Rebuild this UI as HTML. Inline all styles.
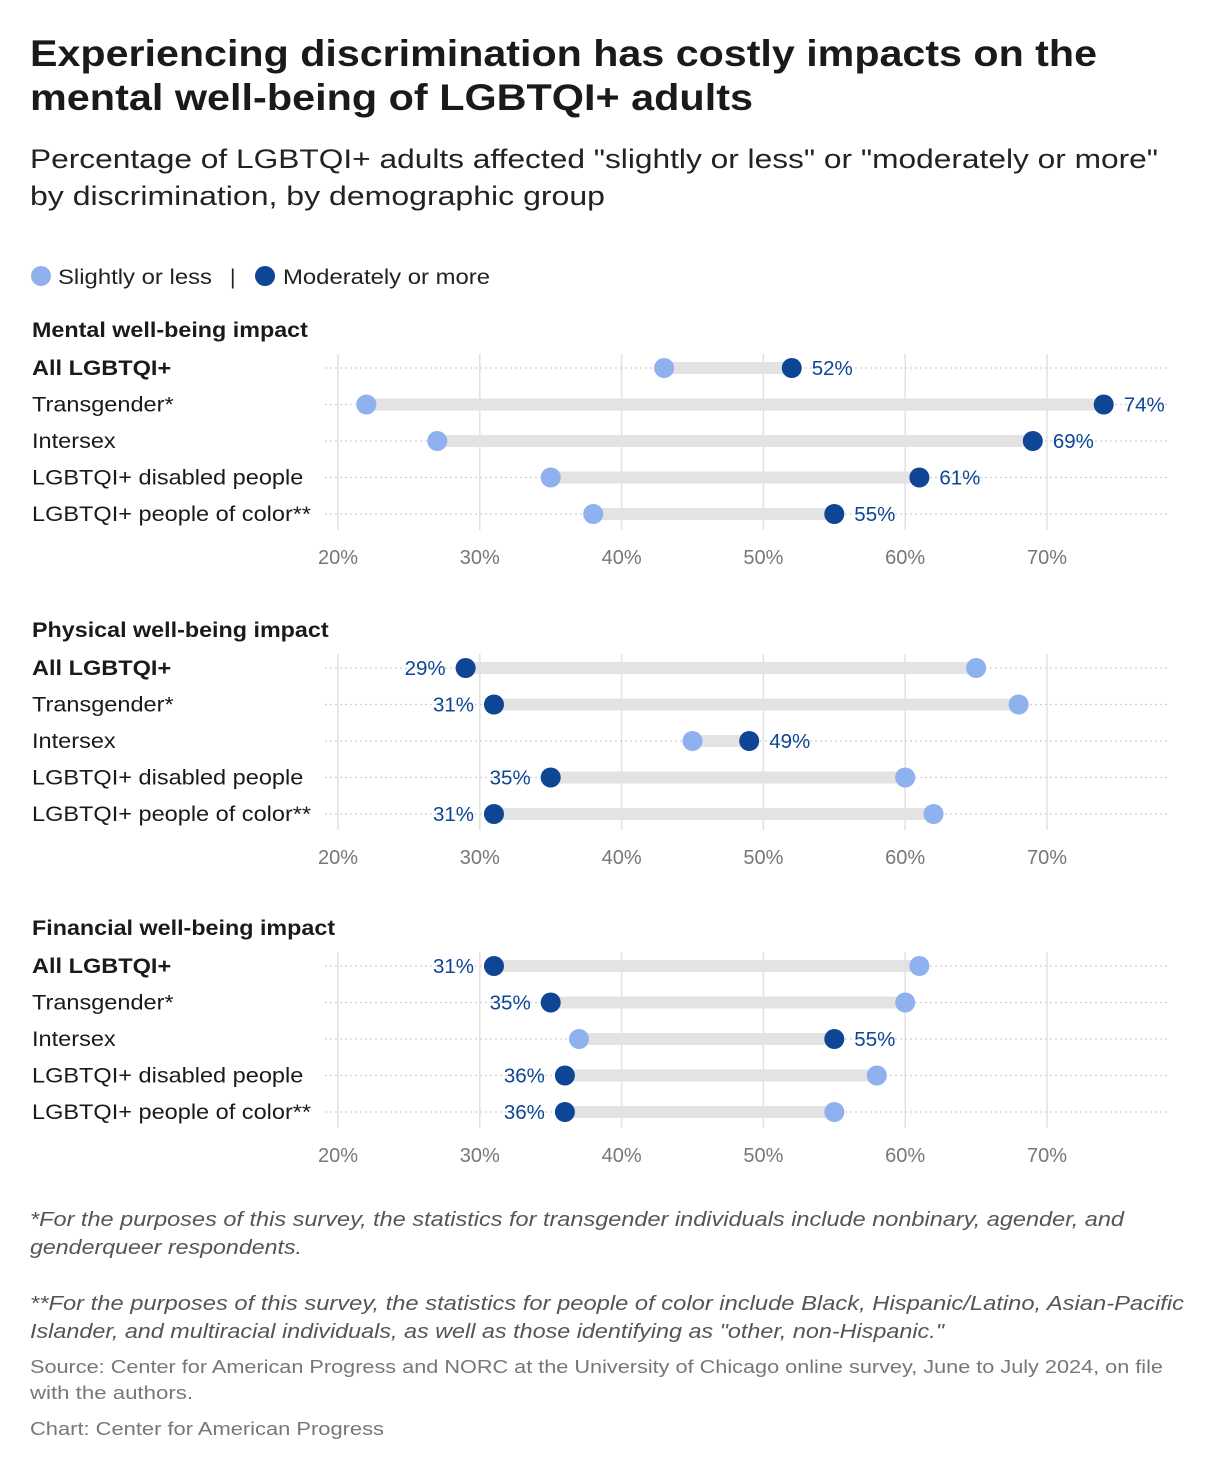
<!DOCTYPE html>
<html><head><meta charset="utf-8"><style>
body{margin:0;background:#fff;font-family:"Liberation Sans",sans-serif;}
svg text{font-family:"Liberation Sans",sans-serif;}
</style></head><body>
<svg id="c" width="1220" height="1474" viewBox="0 0 1220 1474" xmlns="http://www.w3.org/2000/svg">
<text x="30" y="66" font-size="37" font-weight="bold" fill="#1a1a1a" textLength="1067" lengthAdjust="spacingAndGlyphs">Experiencing discrimination has costly impacts on the</text>
<text x="30" y="110" font-size="37" font-weight="bold" fill="#1a1a1a" textLength="723" lengthAdjust="spacingAndGlyphs">mental well-being of LGBTQI+ adults</text>
<text x="30" y="168" font-size="27" fill="#222" textLength="1128" lengthAdjust="spacingAndGlyphs">Percentage of LGBTQI+ adults affected "slightly or less" or "moderately or more"</text>
<text x="30" y="205" font-size="27" fill="#222" textLength="575" lengthAdjust="spacingAndGlyphs">by discrimination, by demographic group</text>
<g>
<circle cx="41" cy="276" r="10" fill="#8fb1ee"/>
<text x="58" y="284" font-size="21" fill="#222" textLength="154" lengthAdjust="spacingAndGlyphs">Slightly or less</text>
<text x="230" y="284" font-size="21" fill="#222">|</text>
<circle cx="265" cy="276" r="10" fill="#0e4595"/>
<text x="283" y="284" font-size="21" fill="#222" textLength="207" lengthAdjust="spacingAndGlyphs">Moderately or more</text>
</g>
<g id="panels"></g>
<g font-size="20.5" fill="#555" font-style="italic">
<text x="30" y="1226" textLength="1094" lengthAdjust="spacingAndGlyphs">*For the purposes of this survey, the statistics for transgender individuals include nonbinary, agender, and</text>
<text x="30" y="1254" textLength="272" lengthAdjust="spacingAndGlyphs">genderqueer respondents.</text>
<text x="30" y="1310" textLength="1154" lengthAdjust="spacingAndGlyphs">**For the purposes of this survey, the statistics for people of color include Black, Hispanic/Latino, Asian-Pacific</text>
<text x="30" y="1338" textLength="914" lengthAdjust="spacingAndGlyphs">Islander, and multiracial individuals, as well as those identifying as "other, non-Hispanic."</text>
</g>
<text x="30" y="1373" font-size="18.5" fill="#777" textLength="1133" lengthAdjust="spacingAndGlyphs">Source: Center for American Progress and NORC at the University of Chicago online survey, June to July 2024, on file</text>
<text x="30" y="1399" font-size="18.5" fill="#777" textLength="163" lengthAdjust="spacingAndGlyphs">with the authors.</text>
<text x="30" y="1435" font-size="18.5" fill="#777" textLength="354" lengthAdjust="spacingAndGlyphs">Chart: Center for American Progress</text>
</svg>
<script>
const panelTitles=["Mental well-being impact","Physical well-being impact","Financial well-being impact"];
const categories=["All LGBTQI+","Transgender*","Intersex","LGBTQI+ disabled people","LGBTQI+ people of color**"];
const mentalSlight=[43,22,27,35,38];
const mentalModerate=[52,74,69,61,55];
const physicalSlight=[65,68,45,60,62];
const physicalModerate=[29,31,49,35,31];
const financialSlight=[61,60,37,58,55];
const financialModerate=[31,35,55,36,36];
const tickValues=[20,30,40,50,60,70];
const tickLabels=["20%","30%","40%","50%","60%","70%"];

const NS="http://www.w3.org/2000/svg";
const x=v=>338+(v-20)*14.18;
function mk(tag,attrs,parent,txt){const e=document.createElementNS(NS,tag);for(const k in attrs)e.setAttribute(k,attrs[k]);if(txt!==undefined)e.textContent=txt;parent.appendChild(e);return e;}
function stretch(e,f){const w=e.getComputedTextLength();e.setAttribute('textLength',(w*f).toFixed(1));e.setAttribute('lengthAdjust','spacingAndGlyphs');}
const root=document.getElementById('panels');
const slights=[mentalSlight,physicalSlight,financialSlight];
const mods=[mentalModerate,physicalModerate,financialModerate];
const tops=[330,630,928];
const ids=["mental","physical","financial"];
panelTitles.forEach((t,p)=>{
  const g=mk('g',{},root);
  
  
  const top=tops[p];
  const tt=mk('text',{x:32,y:top+7,'font-size':21,'font-weight':'bold',fill:'#1a1a1a'},g,t);
  
  
  stretch(tt,1.11);
  const rowY=i=>top+38+i*36.5;
  tickValues.forEach((v,i)=>{
    const gl=mk('line',{x1:x(v),x2:x(v),y1:top+24,y2:top+200,stroke:'#e2e2e2','stroke-width':1.5},g);
    
    
    const tl=mk('text',{x:x(v),y:top+234,'font-size':20,fill:'#777','text-anchor':'middle'},g,tickLabels[i]);
    
    
  });
  categories.forEach((c,i)=>{
    const y=rowY(i);
    const dl=mk('line',{x1:325,x2:1168,y1:y,y2:y,stroke:'#cfcfcf','stroke-width':1.2,'stroke-dasharray':'2 3'},g);
    
    
    const lab=mk('text',{x:32,y:y+7,'font-size':21,fill:'#1a1a1a','font-weight':i===0?'bold':'normal'},g,c);
    
    
    stretch(lab,1.12);
    const s=slights[p][i],m=mods[p][i];
    const bar=mk('line',{x1:x(s),x2:x(m),y1:y,y2:y,stroke:'#e3e3e3','stroke-width':12},g);
    
    
    const d1=mk('circle',{cx:x(s),cy:y,r:10,fill:'#8fb1ee'},g);
    
    
    const d2=mk('circle',{cx:x(m),cy:y,r:10,fill:'#0e4595'},g);
    
    
    const right=m>s;
    const vl=mk('text',{x:right?x(m)+20:x(m)-20,y:y+7,'font-size':20.5,fill:'#0e4595','text-anchor':right?'start':'end'},g,m+'%');
    
    
  });
});
</script>
</body></html>
